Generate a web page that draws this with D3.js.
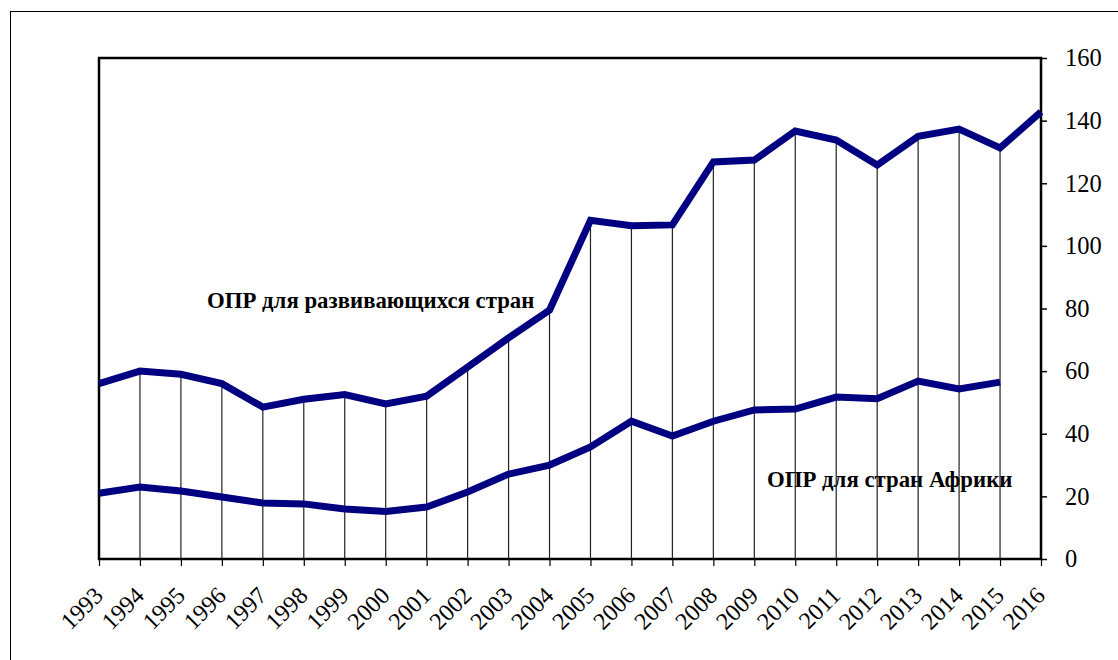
<!DOCTYPE html>
<html>
<head>
<meta charset="utf-8">
<script src="https://cdn.jsdelivr.net/npm/d3@7"></script>
<style>
  body { margin: 0; background: #fff; }
  svg { display: block; }
</style>
</head>
<body>
<svg id="chart" width="1118" height="660"></svg>
<script>
// Data
var years = [1993, 1994, 1995, 1996, 1997, 1998, 1999, 2000, 2001, 2002, 2003, 2004,
             2005, 2006, 2007, 2008, 2009, 2010, 2011, 2012, 2013, 2014, 2015, 2016];
var developing = [56, 60, 59, 56, 48.5, 51, 52.5, 49.5, 52, 61.3, 70.6, 79.5,
                  108.2, 106.4, 106.7, 126.8, 127.4, 136.7, 133.8, 125.8, 135, 137.3, 131.3, 142.8];
var africa = [21, 23, 21.7, 19.8, 17.9, 17.6, 16, 15.2, 16.6, 21.4, 27.1, 30,
              35.8, 44, 39.3, 44, 47.6, 47.9, 51.7, 51.2, 56.8, 54.3, 56.5];
var yTicks = [0, 20, 40, 60, 80, 100, 120, 140, 160];
var labelDeveloping = 'ОПР для развивающихся стран';
var labelAfrica = 'ОПР для стран Африки';

var svg = d3.select('#chart');
var margin = { left: 99, top: 58, right: 1041, bottom: 559 };
var serif = '"Liberation Serif", "Times New Roman", serif';

// Outer frame (runs off the right and bottom edges)
svg.append('rect')
    .attr('x', 10.5).attr('y', 11.5)
    .attr('width', 1200).attr('height', 800)
    .attr('fill', 'none')
    .attr('stroke', '#000')
    .attr('stroke-width', 1);

var x = d3.scaleLinear()
    .domain([years[0], years[years.length - 1]])
    .range([margin.left, margin.right]);

var y = d3.scaleLinear()
    .domain([0, 160])
    .range([margin.bottom, margin.top]);

// Series labels (drop lines pass over them)
svg.append('text')
    .attr('x', 207).attr('y', 308)
    .attr('font-family', serif)
    .attr('font-weight', 'bold')
    .attr('font-size', 22.8)
    .text(labelDeveloping);

svg.append('text')
    .attr('x', 767).attr('y', 487)
    .attr('font-family', serif)
    .attr('font-weight', 'bold')
    .attr('font-size', 22.8)
    .text(labelAfrica);

// Drop lines from the upper series down to the axis
svg.append('g')
    .attr('class', 'drops')
    .selectAll('line')
    .data(years)
    .enter()
    .append('line')
    .attr('x1', function (d) { return x(d); })
    .attr('x2', function (d) { return x(d); })
    .attr('y1', function (d, i) { return y(developing[i]); })
    .attr('y2', y(0))
    .attr('stroke', '#222')
    .attr('stroke-width', 1.2);

// Plot frame
svg.append('rect')
    .attr('x', margin.left).attr('y', margin.top)
    .attr('width', margin.right - margin.left)
    .attr('height', margin.bottom - margin.top)
    .attr('fill', 'none')
    .attr('stroke', '#000')
    .attr('stroke-width', 2.5);

// Series lines
var line = d3.line()
    .x(function (d, i) { return x(years[i]); })
    .y(function (d) { return y(d); });

[developing, africa].forEach(function (series) {
    svg.append('path')
        .datum(series)
        .attr('d', line)
        .attr('fill', 'none')
        .attr('stroke', '#000080')
        .attr('stroke-width', 7)
        .attr('stroke-linejoin', 'miter');
});

// Right axis
var yAxis = d3.axisRight(y)
    .tickValues(yTicks)
    .tickSize(6)
    .tickPadding(18);

var gy = svg.append('g')
    .attr('transform', 'translate(' + margin.right + ',0)')
    .call(yAxis);
gy.select('.domain').remove();
gy.selectAll('.tick line').attr('stroke', '#000').attr('stroke-width', 1.5);
gy.selectAll('.tick text')
    .attr('font-family', serif)
    .attr('font-size', 24.5)
    .attr('fill', '#000');

// Bottom axis
var xAxis = d3.axisBottom(x)
    .tickValues(years)
    .tickFormat(d3.format('d'))
    .tickSize(7);

var gx = svg.append('g')
    .attr('transform', 'translate(0,' + margin.bottom + ')')
    .call(xAxis);
gx.select('.domain').remove();
gx.selectAll('.tick line').attr('stroke', '#000').attr('stroke-width', 1.2);
gx.selectAll('.tick text')
    .attr('font-family', serif)
    .attr('font-size', 24)
    .attr('fill', '#000')
    .attr('text-anchor', 'end')
    .attr('x', 0)
    .attr('y', 0)
    .attr('dy', '0')
    .attr('transform', 'translate(5,38) rotate(-45)');
</script>
</body>
</html>
